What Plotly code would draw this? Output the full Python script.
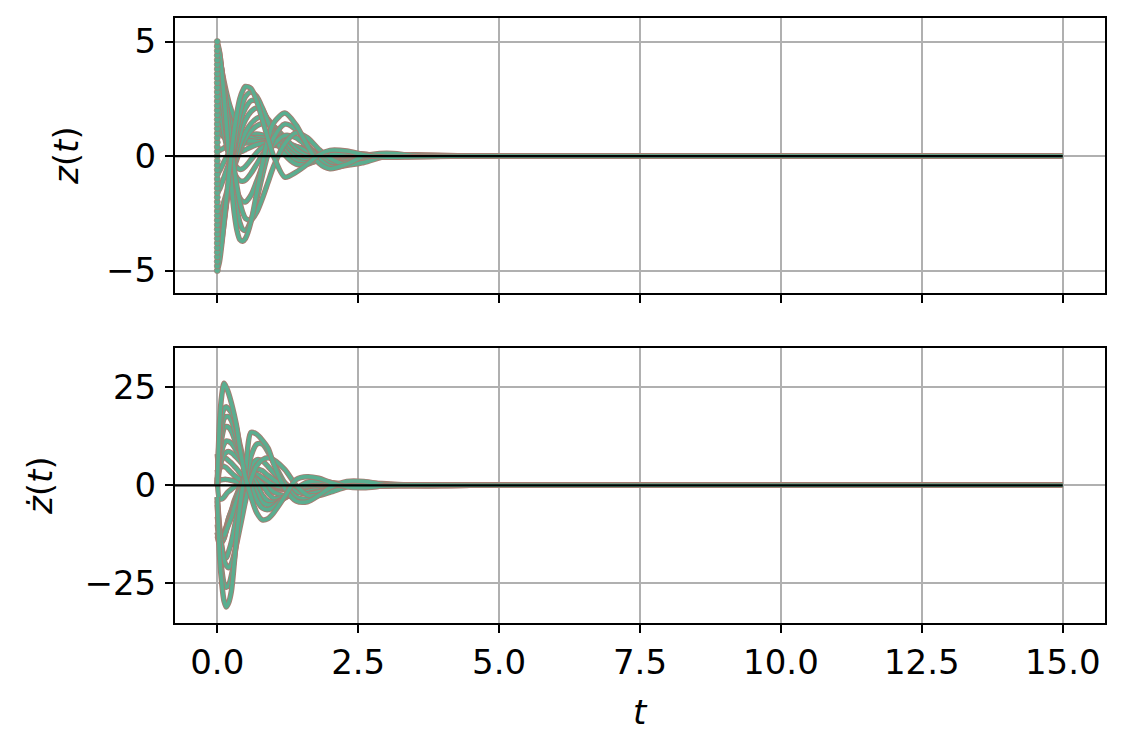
import plotly.graph_objects as go
from plotly.subplots import make_subplots

# time samples (s)
t = [0, 0.04, 0.08, 0.12, 0.16, 0.2, 0.25, 0.3, 0.35, 0.4, 0.45, 0.5, 0.6, 0.7,
     0.8, 0.9, 1.0, 1.2, 1.4, 1.6, 1.8, 2.0, 2.3, 2.6, 3.0, 3.5, 4.5, 15.0]

# ---- position trajectories z(t) ----
z_g1 = [1.2, 1.1, 0.95, 0.82, 0.72, 0.64, 0.58, 0.55, 0.54, 0.55, 0.56, 0.57, 0.58, 0.57, 0.55, 0.52, 0.48, 0.39, 0.29, 0.19, 0.11, 0.05, 0.0, -0.02, -0.01, 0, 0, 0]
z_g2 = [-1.6, -1.45, -1.2, -0.92, -0.64, -0.38, -0.08, 0.18, 0.4, 0.58, 0.72, 0.82, 0.93, 0.96, 0.92, 0.85, 0.76, 0.56, 0.37, 0.22, 0.1, 0.03, -0.03, -0.04, -0.02, 0, 0, 0]
z_g3 = [0.2, 0.25, 0.3, 0.36, 0.42, 0.48, 0.54, 0.6, 0.64, 0.68, 0.7, 0.72, 0.73, 0.72, 0.7, 0.66, 0.62, 0.52, 0.4, 0.28, 0.17, 0.09, 0.02, -0.02, -0.02, 0, 0, 0]
z_g4 = [-0.8, -0.65, -0.45, -0.25, -0.06, 0.1, 0.28, 0.42, 0.54, 0.63, 0.7, 0.75, 0.8, 0.81, 0.79, 0.75, 0.7, 0.56, 0.41, 0.28, 0.16, 0.08, 0.01, -0.02, -0.02, 0, 0, 0]
z_e1 = [4.8, 4.3, 3.75, 3.25, 2.8, 2.4, 2.0, 1.68, 1.42, 1.22, 1.06, 0.94, 0.8, 0.72, 0.68, 0.64, 0.6, 0.48, 0.35, 0.23, 0.13, 0.06, 0.0, -0.03, -0.02, 0, 0, 0]
z_e2 = [4.2, 3.65, 3.1, 2.6, 2.15, 1.78, 1.4, 1.12, 0.92, 0.8, 0.72, 0.68, 0.66, 0.64, 0.6, 0.56, 0.52, 0.42, 0.3, 0.2, 0.11, 0.05, 0.0, -0.02, -0.02, 0, 0, 0]
z_e3 = [3.6, 3.0, 2.4, 1.85, 1.38, 1.0, 0.62, 0.38, 0.25, 0.2, 0.22, 0.28, 0.4, 0.5, 0.55, 0.56, 0.54, 0.45, 0.33, 0.22, 0.12, 0.05, -0.01, -0.03, -0.02, 0, 0, 0]
z_e4 = [3.0, 2.45, 1.85, 1.3, 0.8, 0.4, -0.02, -0.32, -0.5, -0.58, -0.55, -0.45, -0.15, 0.15, 0.38, 0.5, 0.55, 0.48, 0.33, 0.2, 0.1, 0.04, -0.02, -0.03, -0.01, 0, 0, 0]
z_e5 = [2.4, 2.0, 1.5, 0.98, 0.5, 0.08, -0.38, -0.72, -0.95, -1.07, -1.1, -1.05, -0.75, -0.35, 0.05, 0.35, 0.55, 0.6, 0.42, 0.22, 0.07, -0.03, -0.08, -0.05, 0.0, 0.01, 0, 0]
z_d5 = [-2.6, -2.5, -2.28, -1.98, -1.65, -1.3, -0.88, -0.48, -0.12, 0.22, 0.5, 0.75, 1.1, 1.32, 1.42, 1.42, 1.3, 0.8, 0.3, 0.0, -0.12, -0.1, 0.0, 0.05, 0.02, 0, 0, 0]
z_d4 = [-3.2, -3.05, -2.75, -2.35, -1.9, -1.45, -0.9, -0.4, 0.05, 0.45, 0.78, 1.05, 1.42, 1.65, 1.73, 1.6, 1.3, 0.6, 0.1, -0.12, -0.15, -0.07, 0.04, 0.06, 0.01, -0.01, 0, 0]
z_d3 = [-3.8, -3.6, -3.2, -2.65, -2.05, -1.45, -0.75, -0.1, 0.45, 0.92, 1.3, 1.58, 1.95, 2.1, 1.95, 1.6, 1.15, 0.4, -0.05, -0.22, -0.18, -0.05, 0.08, 0.07, 0.0, -0.02, 0, 0]
z_d2 = [-4.2, -3.95, -3.45, -2.8, -2.1, -1.4, -0.55, 0.25, 0.9, 1.42, 1.82, 2.1, 2.42, 2.4, 2.05, 1.55, 1.05, 0.25, -0.2, -0.3, -0.2, -0.02, 0.12, 0.08, -0.01, -0.02, 0, 0]
z_d1 = [-4.6, -4.3, -3.7, -2.95, -2.15, -1.35, -0.4, 0.5, 1.25, 1.85, 2.3, 2.6, 2.8, 2.6, 2.1, 1.5, 0.9, 0.05, -0.35, -0.35, -0.15, 0.05, 0.15, 0.08, -0.02, -0.02, 0, 0]
z_f2 = [3.3, 3.0, 2.45, 1.75, 1.0, 0.3, -0.5, -1.1, -1.55, -1.83, -1.98, -2.0, -1.7, -1.1, -0.45, 0.1, 0.5, 0.9, 0.8, 0.4, 0.0, -0.25, -0.28, -0.1, 0.04, 0.03, 0, 0]
z_f1 = [4.9, 4.5, 3.75, 2.8, 1.75, 0.7, -0.5, -1.55, -2.35, -2.9, -3.2, -3.25, -2.8, -1.9, -0.85, 0.1, 0.8, 1.4, 1.15, 0.5, -0.1, -0.45, -0.4, -0.1, 0.08, 0.04, 0, 0]
z_c = [4.6, 4.3, 3.75, 3.05, 2.25, 1.4, 0.4, -0.55, -1.35, -2.0, -2.45, -2.72, -2.8, -2.45, -1.85, -1.15, -0.45, 0.55, 1.02, 0.8, 0.3, -0.1, -0.38, -0.28, 0.0, 0.06, 0, 0]
z_b = [5, 4.55, 3.7, 2.6, 1.4, 0.2, -1.25, -2.45, -3.25, -3.65, -3.72, -3.6, -2.85, -1.6, -0.35, 0.75, 1.45, 1.88, 1.35, 0.45, -0.3, -0.55, -0.35, 0.0, 0.12, 0.03, 0, 0]
z_a = [-5, -4.6, -3.85, -2.9, -1.9, -0.95, 0.15, 1.1, 1.9, 2.5, 2.85, 3.04, 2.95, 2.4, 1.6, 0.75, 0.0, -0.92, -0.7, -0.35, 0.05, 0.25, 0.22, 0.06, -0.05, -0.03, 0, 0]

# ---- velocity trajectories zdot(t) ----
zd_g1 = [2, -3.5, -3.5, -3, -2.2, -1.6, -1.0, -0.5, -0.1, 0.15, 0.2, 0.15, 0.05, -0.1, -0.25, -0.35, -0.4, -0.48, -0.5, -0.45, -0.35, -0.22, -0.1, -0.02, 0.01, 0, 0, 0]
zd_g2 = [6, 5.5, 6.8, 7, 6.8, 6.3, 5.7, 4.9, 4.1, 3.2, 2.4, 1.7, 0.6, -0.2, -0.6, -0.8, -0.9, -1.0, -0.9, -0.7, -0.5, -0.3, -0.12, 0, 0.03, 0, 0, 0]
zd_g3 = [4, 1.3, 1.4, 1.5, 1.5, 1.4, 1.3, 1.1, 0.9, 0.6, 0.4, 0.3, 0.05, -0.15, -0.3, -0.4, -0.45, -0.55, -0.6, -0.58, -0.5, -0.35, -0.18, -0.06, 0.01, 0, 0, 0]
zd_g4 = [8, 4.2, 5, 4.8, 4.5, 3.9, 3.2, 2.5, 2, 1.5, 1.1, 0.8, 0.3, 0, -0.3, -0.45, -0.55, -0.72, -0.75, -0.65, -0.5, -0.35, -0.16, -0.05, 0.01, 0, 0, 0]
zd_e1 = [-10, -13.5, -13, -12, -10.8, -9.5, -7.5, -5.8, -4.5, -3.5, -2.8, -2.1, -1.1, -0.6, -0.4, -0.4, -0.5, -0.65, -0.65, -0.55, -0.45, -0.3, -0.15, -0.05, 0.02, 0.01, 0, 0]
zd_e2 = [-12, -14, -13.5, -12, -10.5, -8.5, -6.5, -4.8, -3.2, -2, -1.2, -0.6, -0.2, -0.3, -0.4, -0.4, -0.45, -0.55, -0.55, -0.5, -0.4, -0.25, -0.12, -0.03, 0.01, 0, 0, 0]
zd_e3 = [-13, -15, -14.5, -13.5, -11, -8.5, -6.5, -4, -2.2, -0.5, 0.8, 1.1, 1.15, 0.8, 0.4, 0.1, -0.2, -0.5, -0.6, -0.55, -0.45, -0.3, -0.12, -0.03, 0.01, 0, 0, 0]
zd_e4 = [-12, -14.5, -14.5, -13.5, -11.5, -9.5, -7.5, -5, -2.5, -0.8, 1.2, 2.5, 3.2, 2.8, 2, 0.9, 0.1, -0.6, -0.75, -0.6, -0.45, -0.25, -0.1, 0, 0.02, 0, 0, 0]
zd_e5 = [-8, -11.5, -13, -12.8, -11.5, -10, -8.2, -5.8, -3.6, -1.6, -0.2, 1.2, 3.5, 4.1, 3.7, 2.5, 1.5, -0.4, -1.1, -0.9, -0.6, -0.35, -0.05, 0.1, 0.05, 0, 0, 0]
zd_d5 = [0, 4.2, 6.5, 7.8, 8.4, 8.6, 8.3, 7.7, 7, 6.2, 5.3, 4.5, 2.9, 1.6, 0.5, -0.5, -1.7, -2.6, -2, -1, -0.3, 0.05, 0.2, 0.05, -0.03, 0, 0, 0]
zd_d4 = [0, 6, 8.8, 10.5, 11.3, 11.2, 10.7, 9.8, 8.6, 7.4, 6, 4.8, 3, 1.5, 0.2, -2, -3.3, -3, -1.6, -0.4, 0.1, 0.3, 0.2, -0.05, -0.05, 0.01, 0, 0]
zd_d3 = [0, 8, 12, 14.5, 15, 14.8, 13.8, 12, 10, 8.5, 6.8, 4.8, 2.8, 0.3, -2.5, -4, -4.3, -3.2, -1.5, -0.2, 0.5, 0.5, 0.3, -0.1, -0.1, 0.02, 0, 0]
zd_d2 = [0, 10.5, 14.5, 17, 17.5, 17.5, 16.5, 14.5, 11.5, 9, 7, 5, 1.5, -1.6, -4.3, -5, -4.9, -3.2, -1.3, 0.2, 0.8, 0.6, 0.25, -0.2, -0.1, 0.03, 0, 0]
zd_d1 = [0, 13, 17.5, 19.5, 20, 19.5, 18.5, 17, 14, 10.5, 7.5, 5, 0, -3.8, -5.8, -6.2, -5.5, -3, -0.8, 0.8, 1.1, 0.7, 0.1, -0.3, -0.15, 0.03, 0, 0]
zd_f2 = [-3, -10.5, -15.5, -18, -18.5, -17, -14.5, -11, -7.5, -4.5, -1.8, 0.3, 4.8, 6.5, 6.2, 4.8, 3.2, 0.6, -1.6, -2.2, -1.7, -0.9, 0.2, 0.5, 0.15, -0.05, 0, 0]
zd_f1 = [-5, -15, -21.5, -25, -26, -25.5, -23, -19, -13.5, -8.5, -3.5, 0.5, 7.5, 10.5, 10.5, 8.5, 5.8, 0.5, -3, -3.5, -2.5, -1.1, 0.5, 0.8, 0.2, -0.1, 0, 0]
zd_c = [-4, -11, -16, -19, -20.5, -21, -20, -17.5, -14.5, -11, -7.5, -4, 1.5, 5, 6.5, 7, 6.5, 4, 0, -2.5, -2.6, -1.8, -0.4, 0.5, 0.4, 0, 0, 0]
zd_b = [-3, -18, -25, -29.5, -31, -30, -27, -20, -12, -5.5, -0.5, 3.5, 13.5, 13, 11.5, 9.5, 5.5, -0.8, -4, -4.2, -2.6, -0.6, 1, 1, 0.1, -0.1, 0, 0]
zd_a = [0, 16, 23, 26, 25, 23.5, 21, 18, 14.5, 9.5, 5.5, 2, -3, -7, -8.8, -8.5, -7, -2.8, 1.5, 2.2, 1.8, 0.8, -0.4, -0.6, -0.1, 0.05, 0, 0]

# initial positions (left column of starting points)
z0_start = [-5.0, -4.8, -4.6, -4.4, -4.2, -4.0, -3.8, -3.6, -3.4, -3.2, -3.0, -2.8, -2.6,
            -2.4, -2.2, -2.0, -1.8, -1.6, -1.4, -1.2, -1.0, -0.8, -0.6, -0.4, -0.2, 0.0,
            0.2, 0.4, 0.6, 0.8, 1.0, 1.2, 1.4, 1.6, 1.8, 2.0, 2.2, 2.4, 2.6, 2.8, 3.0,
            3.2, 3.4, 3.6, 3.8, 4.0, 4.2, 4.4, 4.6, 4.8, 5.0]

x_ticks = [0, 2.5, 5, 7.5, 10, 12.5, 15]
x_tick_text = ["0.0", "2.5", "5.0", "7.5", "10.0", "12.5", "15.0"]

z_curves = [z_g1, z_g2, z_g3, z_g4, z_e1, z_e2, z_e3, z_e4, z_e5, z_d5, z_d4, z_d3,
            z_d2, z_d1, z_f2, z_f1, z_c, z_b, z_a]
zd_curves = [zd_g1, zd_g2, zd_g3, zd_g4, zd_e1, zd_e2, zd_e3, zd_e4, zd_e5, zd_d5, zd_d4,
             zd_d3, zd_d2, zd_d1, zd_f2, zd_f1, zd_c, zd_b, zd_a]

TEAL = "#5aae90"
EDGE = "#a57d72"
FONT = "DejaVu Sans"

fig = make_subplots(rows=2, cols=1)

for zc, zdc in zip(z_curves, zd_curves):
    for row, yv in ((1, zc), (2, zdc)):
        fig.add_trace(go.Scatter(x=t, y=yv, mode="lines",
                                 line=dict(color=EDGE, width=5.5, shape="spline", smoothing=0.8),
                                 hoverinfo="skip", showlegend=False), row=row, col=1)
        fig.add_trace(go.Scatter(x=t, y=yv, mode="lines",
                                 line=dict(color=TEAL, width=3.6, shape="spline", smoothing=0.8),
                                 hoverinfo="skip", showlegend=False), row=row, col=1)

fig.add_trace(go.Scatter(x=[0] * len(z0_start), y=z0_start, mode="markers",
                         marker=dict(size=6, color=TEAL, line=dict(color=EDGE, width=0.8)),
                         hoverinfo="skip", showlegend=False), row=1, col=1)

# page has an 8px body margin; figure pixel coordinates below are page - 8
W, H = 1118, 742
L, R = 167, 1097
top_box = (10, 285)
bot_box = (340, 615)

axis_common = dict(showline=True, linecolor="black", linewidth=2, mirror=True,
                   ticks="outside", ticklen=8, tickwidth=2, tickcolor="black",
                   showgrid=True, gridcolor="#b0b0b0", gridwidth=2, zeroline=False,
                   tickfont=dict(family=FONT, size=34, color="black"))

fig.update_xaxes(**axis_common)
fig.update_yaxes(**axis_common)

fig.update_layout(
    width=W, height=H, margin=dict(l=0, r=0, t=0, b=0),
    plot_bgcolor="white", paper_bgcolor="white", showlegend=False,
    xaxis=dict(domain=[L / W, R / W], range=[-0.75, 15.75], tickvals=x_ticks,
               ticktext=x_tick_text, showticklabels=False, anchor="y"),
    xaxis2=dict(domain=[L / W, R / W], range=[-0.75, 15.75], tickvals=x_ticks,
                ticktext=x_tick_text, ticklabelstandoff=0, anchor="y2"),
    yaxis=dict(domain=[1 - top_box[1] / H, 1 - top_box[0] / H], range=[-5.98, 6.03],
               tickvals=[-5, 0, 5], ticklabelstandoff=2),
    yaxis2=dict(domain=[1 - bot_box[1] / H, 1 - bot_box[0] / H], range=[-35.1, 35.0],
                tickvals=[-25, 0, 25], ticklabelstandoff=2),
)

# black reference line at zero up to end of simulation
fig.add_shape(type="line", xref="x", yref="y", x0=-0.75, x1=15, y0=0, y1=0,
              line=dict(color="black", width=2.2), layer="above")
fig.add_shape(type="line", xref="x2", yref="y2", x0=-0.75, x1=15, y0=0, y1=0,
              line=dict(color="black", width=2.2), layer="above")

label_font = dict(family=FONT, size=34, color="black")
fig.add_annotation(text="<i>z</i>(<i>t</i>)", xref="paper", yref="paper",
                   x=58 / W, y=1 - 148 / H, textangle=-90, showarrow=False,
                   xanchor="center", yanchor="middle", font=label_font)
fig.add_annotation(text="<i>ż</i>(<i>t</i>)", xref="paper", yref="paper",
                   x=32 / W, y=1 - 478 / H, textangle=-90, showarrow=False,
                   xanchor="center", yanchor="middle", font=label_font)
fig.add_annotation(text="<i>t</i>", xref="paper", yref="paper",
                   x=632 / W, y=1 - 704 / H, showarrow=False,
                   xanchor="center", yanchor="middle", font=label_font)

fig.write_html("out.html")
